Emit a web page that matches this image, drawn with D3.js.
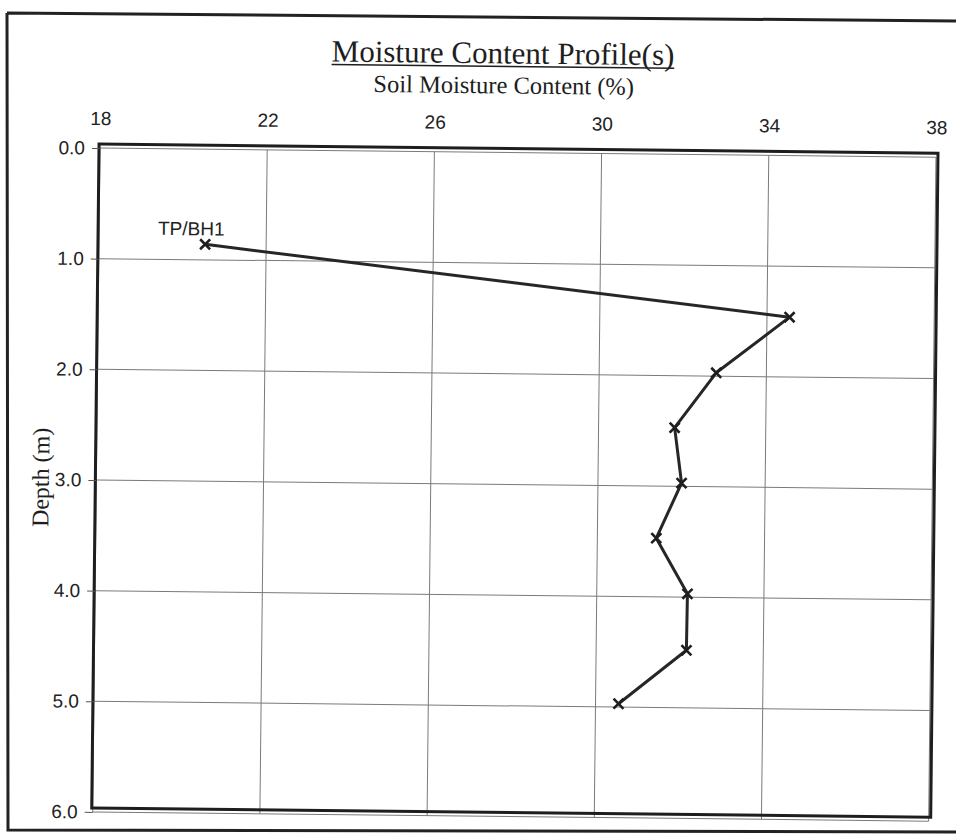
<!DOCTYPE html>
<html>
<head>
<meta charset="utf-8">
<script src="https://cdn.jsdelivr.net/npm/d3@7"></script>
<style>
  html, body { margin: 0; padding: 0; background: #fff; }
  svg { display: block; }
</style>
</head>
<body>
<svg id="chart" width="956" height="835"></svg>
<script>
// Moisture content profile for trial pit / borehole TP/BH1
const seriesName = "TP/BH1";
const moisture = [20.54, 34.54, 32.80, 31.82, 32.0, 31.41, 32.17, 32.16, 30.55]; // %
const depth    = [0.86, 1.46, 1.97, 2.47, 2.97, 3.47, 3.97, 4.48, 4.97];         // m
const xTicks = [18, 22, 26, 30, 34, 38];
const yTicks = [0, 1, 2, 3, 4, 5, 6];

const svg = d3.select("#chart");

// page border
svg.append("path")
  .attr("d", "M7,13 L956,21 M7,13 L8,830 L956,832")
  .attr("fill", "none")
  .attr("stroke", "#222")
  .attr("stroke-width", 3);

const m = { left: 100, top: 148 };
const W = 836, H = 664;

// the sheet sits slightly skewed, so the chart is turned a little clockwise
const g = svg.append("g")
  .attr("transform", `rotate(0.63, ${m.left}, ${m.top}) translate(${m.left}, ${m.top})`);

const x = d3.scaleLinear().domain([18, 38]).range([0, W]);
const y = d3.scaleLinear().domain([0, 6]).range([0, H]);

// gridlines
g.append("g").selectAll("line").data(xTicks).join("line")
  .attr("x1", d => x(d)).attr("x2", d => x(d))
  .attr("y1", 0).attr("y2", H)
  .attr("stroke", "#7a7a7a").attr("stroke-width", 1);
g.append("g").selectAll("line").data(yTicks).join("line")
  .attr("x1", 0).attr("x2", W)
  .attr("y1", d => y(d)).attr("y2", d => y(d))
  .attr("stroke", "#7a7a7a").attr("stroke-width", 1);

// plot area frame
g.append("rect")
  .attr("x", -1).attr("y", -4)
  .attr("width", W + 3).attr("height", H)
  .attr("fill", "none")
  .attr("stroke", "#1e1e1e")
  .attr("stroke-width", 3);

// top axis labels
const xAxis = g.append("g")
  .call(d3.axisTop(x).tickValues(xTicks).tickSize(0).tickPadding(23).tickFormat(d3.format("d")));
xAxis.select(".domain").remove();
xAxis.selectAll("text")
  .attr("font-family", "'Liberation Sans', Arial, sans-serif")
  .attr("font-size", 19)
  .attr("fill", "#222");

// left axis labels and ticks
const yAxis = g.append("g")
  .call(d3.axisLeft(y).tickValues(yTicks).tickSize(8).tickPadding(7).tickFormat(d3.format(".1f")));
yAxis.select(".domain").remove();
yAxis.selectAll("line").attr("stroke", "#555");
yAxis.selectAll("text")
  .attr("font-family", "'Liberation Sans', Arial, sans-serif")
  .attr("font-size", 19)
  .attr("fill", "#222");

// titles
const title = g.append("text")
  .attr("x", 402).attr("y", 59 - m.top)
  .attr("text-anchor", "middle")
  .attr("font-family", "'Liberation Serif', 'Times New Roman', serif")
  .attr("font-size", 31)
  .attr("fill", "#1e1e1e")
  .text("Moisture Content Profile(s)");
const tw = title.node().getComputedTextLength();
g.append("line")
  .attr("x1", 402 - tw / 2).attr("x2", 402 + tw / 2)
  .attr("y1", 62 - m.top).attr("y2", 62 - m.top)
  .attr("stroke", "#1e1e1e").attr("stroke-width", 1.6);

g.append("text")
  .attr("x", 403).attr("y", 89 - m.top)
  .attr("text-anchor", "middle")
  .attr("font-family", "'Liberation Serif', 'Times New Roman', serif")
  .attr("font-size", 24.5)
  .attr("fill", "#1e1e1e")
  .text("Soil Moisture Content (%)");

g.append("text")
  .attr("transform", `translate(${52.5 - m.left}, ${478 - m.top}) rotate(-90)`)
  .attr("text-anchor", "middle")
  .attr("font-family", "'Liberation Serif', 'Times New Roman', serif")
  .attr("font-size", 24)
  .attr("fill", "#1e1e1e")
  .text("Depth (m)");

// profile line
const pts = moisture.map((v, i) => [v, depth[i]]);
g.append("path")
  .datum(pts)
  .attr("fill", "none")
  .attr("stroke", "#262626")
  .attr("stroke-width", 3)
  .attr("stroke-linejoin", "round")
  .attr("d", d3.line().x(d => x(d[0])).y(d => y(d[1])));

// x markers
const s = 5;
g.append("g").selectAll("path").data(pts).join("path")
  .attr("d", d => {
    const cx = x(d[0]), cy = y(d[1]);
    return `M${cx - s},${cy - s}L${cx + s},${cy + s}M${cx - s},${cy + s}L${cx + s},${cy - s}`;
  })
  .attr("stroke", "#1e1e1e")
  .attr("stroke-width", 2.6)
  .attr("fill", "none");

// series label at the first point
g.append("text")
  .attr("x", x(pts[0][0]) - 14)
  .attr("y", y(pts[0][1]) - 9)
  .attr("text-anchor", "middle")
  .attr("font-family", "'Liberation Sans', Arial, sans-serif")
  .attr("font-size", 19)
  .attr("fill", "#222")
  .text(seriesName);
</script>
</body>
</html>
